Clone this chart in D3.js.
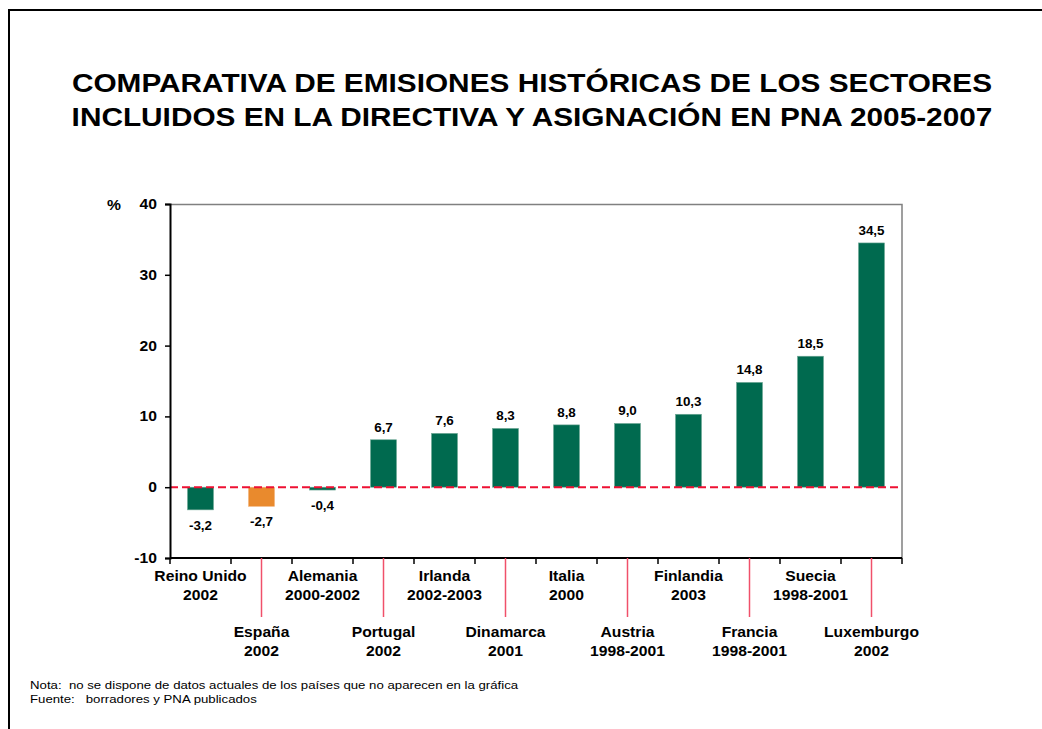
<!DOCTYPE html>
<html>
<head>
<meta charset="utf-8">
<script src="https://cdn.jsdelivr.net/npm/d3@7"></script>
<style>
  body { margin: 0; background: #fff; }
  svg text { font-family: "Liberation Sans", Arial, sans-serif; }
</style>
</head>
<body>
<div id="chart"></div>
<script>
// data
var countries = ["Reino Unido", "España", "Alemania", "Portugal", "Irlanda", "Dinamarca",
                 "Italia", "Austria", "Finlandia", "Francia", "Suecia", "Luxemburgo"];
var periods = ["2002", "2002", "2000-2002", "2002", "2002-2003", "2001",
               "2000", "1998-2001", "2003", "1998-2001", "1998-2001", "2002"];
var values = [-3.2, -2.7, -0.4, 6.7, 7.6, 8.3, 8.8, 9.0, 10.3, 14.8, 18.5, 34.5];
var yTicks = [-10, 0, 10, 20, 30, 40];
var titleLines = ["COMPARATIVA DE EMISIONES HISTÓRICAS DE LOS SECTORES",
                  "INCLUIDOS EN LA DIRECTIVA Y ASIGNACIÓN EN PNA 2005-2007"];
var notes = ["Nota:  no se dispone de datos actuales de los países que no aparecen en la gráfica",
             "Fuente:   borradores y PNA publicados"];

var W = 1042, H = 729;
var margin = {top: 204, left: 170, right: 140, bottom: 171};
var width = W - margin.left - margin.right;
var height = H - margin.top - margin.bottom;
var S = 1.12; // the original text is a bit wider than Arial

var green = "#006a4f", orange = "#e98a2d";

// place a text with the horizontal stretch
function place(sel, fx, fy) {
    sel.attr("transform", function (d, i) {
        return "translate(" + fx(d, i) + "," + fy(d, i) + ") scale(" + S + ",1)";
    });
}

var svg = d3.select("#chart").append("svg")
    .attr("width", W).attr("height", H);

// outer frame (only top and left visible)
svg.append("path")
    .attr("d", "M9,740 L9,10 L1050,10")
    .attr("fill", "none").attr("stroke", "#000").attr("stroke-width", 2);

// title
var title = svg.append("g").selectAll("text")
    .data(titleLines).enter().append("text")
    .attr("text-anchor", "middle")
    .style("font-size", "26.6px").style("font-weight", "bold")
    .text(function (d) { return d; });
place(title, function () { return 532; }, function (d, i) { return 92 + i * 34; });

var g = svg.append("g").attr("transform", "translate(" + margin.left + "," + margin.top + ")");

var x = d3.scaleBand().domain(countries).range([0, width]).paddingInner(0).paddingOuter(0);
var y = d3.scaleLinear().domain([-10, 40]).range([height, 0]);
var cx = function (c) { return x(c) + x.bandwidth() / 2; };

// plot border top/right
g.append("path")
    .attr("d", "M0,0.5 L" + width + ",0.5 L" + width + "," + height)
    .attr("fill", "none").attr("stroke", "#808080").attr("stroke-width", 1.5);

// bars
var barW = 26;
g.selectAll(".bar").data(values).enter().append("rect")
    .attr("class", "bar")
    .attr("x", function (d, i) { return cx(countries[i]) - barW / 2; })
    .attr("width", barW)
    .attr("y", function (d) { return y(Math.max(0, d)); })
    .attr("height", function (d) { return Math.abs(y(d) - y(0)); })
    .attr("fill", function (d, i) { return i === 1 ? orange : green; })
    .attr("stroke", function (d, i) { return i === 1 ? "#f2b27a" : "#6fa896"; })
    .attr("stroke-width", 0.6);

// value labels
var vals = g.selectAll(".val").data(values).enter().append("text")
    .attr("class", "val")
    .attr("text-anchor", "middle")
    .style("font-size", "12px").style("font-weight", "bold")
    .text(function (d) { return (d < 0 ? "-" : "") + d3.format(".1f")(Math.abs(d)).replace(".", ","); });
place(vals, function (d, i) { return cx(countries[i]); },
      function (d) { return d >= 0 ? y(d) - 8 : y(d) + 20; });

// zero line
g.append("line")
    .attr("x1", 0).attr("x2", width)
    .attr("y1", y(0)).attr("y2", y(0))
    .attr("stroke", "#ee1133").attr("stroke-width", 2)
    .attr("stroke-dasharray", "8,4");

// y axis
var yAxis = g.append("g")
    .call(d3.axisLeft(y).tickValues(yTicks).tickSize(5).tickPadding(8).tickFormat(d3.format("d")));
yAxis.select(".domain").attr("stroke", "#000").attr("stroke-width", 2);
yAxis.selectAll(".tick line").attr("stroke", "#000").attr("stroke-width", 1.5);
yAxis.selectAll("text")
    .attr("x", -13 / S).attr("transform", "scale(" + S + ",1)")
    .style("font-size", "14px").style("font-weight", "bold")
    .style("font-family", "Liberation Sans, Arial, sans-serif").attr("fill", "#000")
    .text(function (d) { return d < 0 ? "-" + Math.abs(d) : d; });

var pct = g.append("text")
    .style("font-size", "14px").style("font-weight", "bold").text("%");
place(pct, function () { return -63; }, function () { return 6; });

// x axis: ticks at category boundaries
var bounds = countries.map(function (c) { return x(c); }).concat([width]);
g.append("line")
    .attr("x1", 0).attr("x2", width).attr("y1", height).attr("y2", height)
    .attr("stroke", "#000").attr("stroke-width", 2);
g.selectAll(".xt").data(bounds).enter().append("line")
    .attr("class", "xt")
    .attr("x1", function (d) { return d; }).attr("x2", function (d) { return d; })
    .attr("y1", height).attr("y2", height + 6)
    .attr("stroke", "#000").attr("stroke-width", 1.5);

// leader lines for second-row labels
var odd = countries.filter(function (c, i) { return i % 2 === 1; });
g.selectAll(".lead").data(odd).enter().append("line")
    .attr("class", "lead")
    .attr("x1", cx).attr("x2", cx)
    .attr("y1", height).attr("y2", height + 59)
    .attr("stroke", "#f0506a").attr("stroke-width", 1.5);

// category labels (two lines each, alternating rows)
var names = g.selectAll(".cat").data(countries).enter().append("text")
    .attr("class", "cat").attr("text-anchor", "middle")
    .style("font-size", "14px").style("font-weight", "bold")
    .text(function (d) { return d; });
place(names, cx, function (d, i) { return height + (i % 2 === 0 ? 23 : 79); });
var pers = g.selectAll(".per").data(countries).enter().append("text")
    .attr("class", "per").attr("text-anchor", "middle")
    .style("font-size", "14px").style("font-weight", "bold")
    .text(function (d, i) { return periods[i]; });
place(pers, cx, function (d, i) { return height + (i % 2 === 0 ? 42 : 98); });

// footnotes
var foot = svg.append("g").selectAll("text")
    .data(notes).enter().append("text")
    .style("font-size", "11.8px")
    .style("white-space", "pre")
    .attr("xml:space", "preserve")
    .text(function (d) { return d; });
place(foot, function () { return 30; }, function (d, i) { return 689 + i * 14; });
</script>
</body>
</html>
